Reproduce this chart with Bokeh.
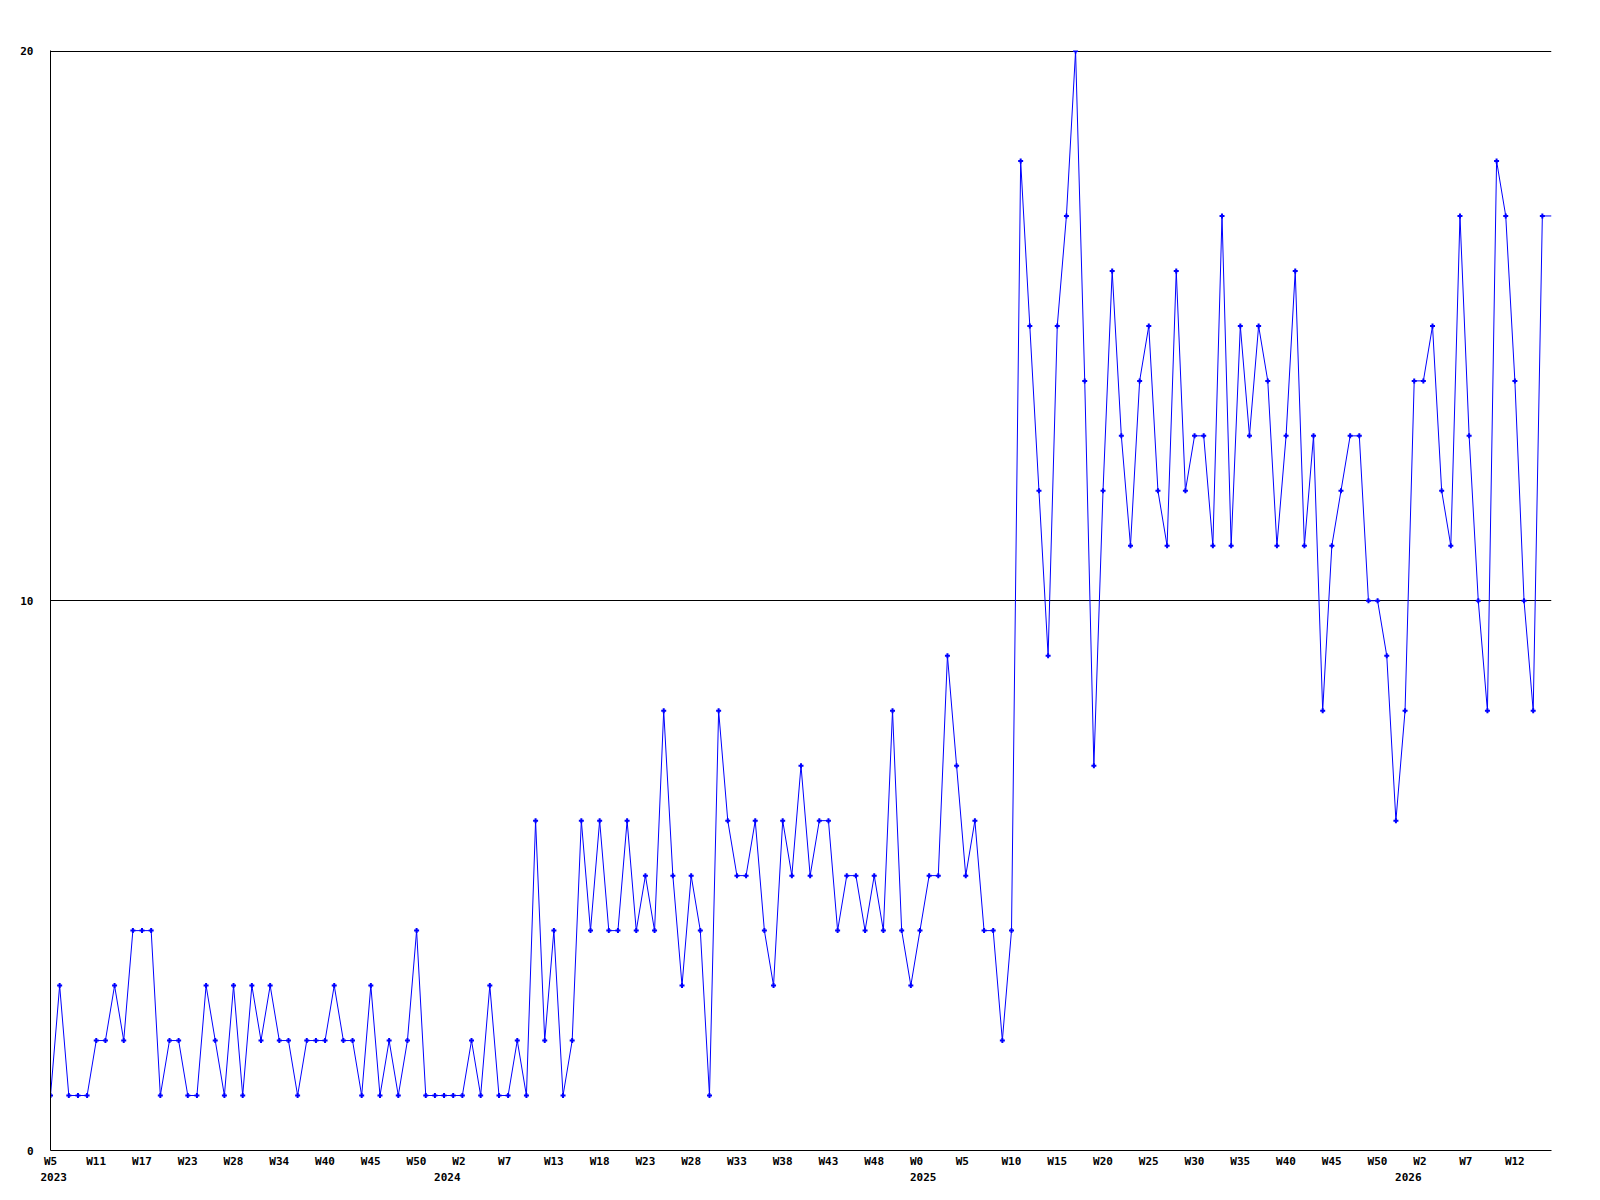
from bokeh.plotting import figure
from bokeh.models import Range1d, FixedTicker, LinearAxis, Grid
from bokeh.embed import file_html
from bokeh.resources import INLINE

# ---- data ----
values = [1, 3, 1, 1, 1, 2, 2, 3, 2, 4, 4, 4, 1, 2, 2, 1, 1, 3, 2, 1, 3, 1, 3, 2, 3, 2, 2, 1,
          2, 2, 2, 3, 2, 2, 1, 3, 1, 2, 1, 2, 4, 1, 1, 1, 1, 1, 2, 1, 3, 1, 1, 2, 1, 6, 2,
          4, 1, 2, 6, 4, 6, 4, 4, 6, 4, 5, 4, 8, 5, 3, 5, 4, 1, 8, 6, 5, 5, 6, 4, 3, 6, 5,
          7, 5, 6, 6, 4, 5, 5, 4, 5, 4, 8, 4, 3, 4, 5, 5, 9, 7, 5, 6, 4, 4, 2, 4,
          18, 15, 12, 9, 15, 17, 20, 14, 7, 12, 16, 13, 11, 14, 15, 12, 11, 16, 12, 13, 13, 11, 17, 11, 15, 13,
          15, 14, 11, 13, 16, 11, 13, 8, 11, 12, 13, 13, 10, 10, 9, 6, 8, 14, 14, 15, 12, 11, 17, 13, 10, 8,
          18, 17, 14, 10, 8, 17]

week_labels = ["W5", "W11", "W17", "W23", "W28", "W34", "W40", "W45", "W50",
               "W2", "W7", "W13", "W18", "W23", "W28", "W33", "W38", "W43", "W48",
               "W0", "W5", "W10", "W15", "W20", "W25", "W30", "W35", "W40", "W45", "W50",
               "W2", "W7", "W12"]
label_every = 5

year_labels = ["2023", "2024", "2025", "2026"]
year_label_index = [0, 43, 95, 148]

y_ticks = [0, 10, 20]
y_grid_lines = [10, 20]

# ---- figure ----
n = len(values)
FONT = "DejaVu Sans Mono"
FRAME_W = 1501
STEP_PX = FRAME_W / n          # pixels per data step
CHAR_PX = 0.602 * 11           # monospace glyph advance at 11px
LABEL_SHIFT_PX = -10           # labels start 10px left of their point


def label_pos(idx, text):
    # labels are drawn left-aligned; bokeh centres them, so move the tick
    pos = idx + (LABEL_SHIFT_PX + CHAR_PX * len(text) / 2) / STEP_PX
    return round(max(0.0, pos), 4)


p = figure(width=1584, height=1195, output_backend="svg", toolbar_location=None,
           x_range=Range1d(0, n), y_range=Range1d(0, 20.01),
           x_axis_location=None, y_axis_location=None,
           min_border_left=50, min_border_top=50, min_border_right=33, min_border_bottom=45)
p.outline_line_color = None
p.background_fill_color = "white"
p.border_fill_color = "white"
p.xgrid.visible = False
p.ygrid.visible = False


def style_axis(ax, standoff):
    ax.major_tick_line_color = None
    ax.minor_tick_line_color = None
    ax.major_tick_out = 0
    ax.major_tick_in = 0
    ax.minor_tick_out = 0
    ax.minor_tick_in = 0
    ax.major_label_standoff = standoff
    ax.major_label_text_font = FONT
    ax.major_label_text_font_style = "bold"
    ax.major_label_text_font_size = "11px"
    ax.major_label_text_color = "black"
    ax.axis_line_color = "black"
    ax.axis_line_width = 1


# week labels axis
wk_ticks = [label_pos(i * label_every, lab) for i, lab in enumerate(week_labels)]
xax = LinearAxis(ticker=FixedTicker(ticks=wk_ticks),
                 major_label_overrides={t: lab for t, lab in zip(wk_ticks, week_labels)})
style_axis(xax, 4)
p.add_layout(xax, "below")

# year labels axis (second row)
yr_ticks = [label_pos(i, lab) for i, lab in zip(year_label_index, year_labels)]
yr_ax = LinearAxis(ticker=FixedTicker(ticks=yr_ticks),
                   major_label_overrides={t: lab for t, lab in zip(yr_ticks, year_labels)})
style_axis(yr_ax, 2)
yr_ax.axis_line_color = None
p.add_layout(yr_ax, "below")

# y axis
yax = LinearAxis(ticker=FixedTicker(ticks=y_ticks))
style_axis(yax, 17)
p.add_layout(yax, "left")

grid = Grid(dimension=1, ticker=FixedTicker(ticks=y_grid_lines),
            grid_line_color="black", grid_line_width=1)
p.add_layout(grid)

# series (last value carried on to the right edge)
line_x = list(range(n)) + [n]
line_y = values + [values[-1]]
p.line(line_x, line_y, line_color="#0000ff", line_width=1)
p.scatter(list(range(n)), values, marker="cross", size=5, line_color="#0000ff", line_width=2)

open("out.html", "w").write(file_html(p, INLINE))
